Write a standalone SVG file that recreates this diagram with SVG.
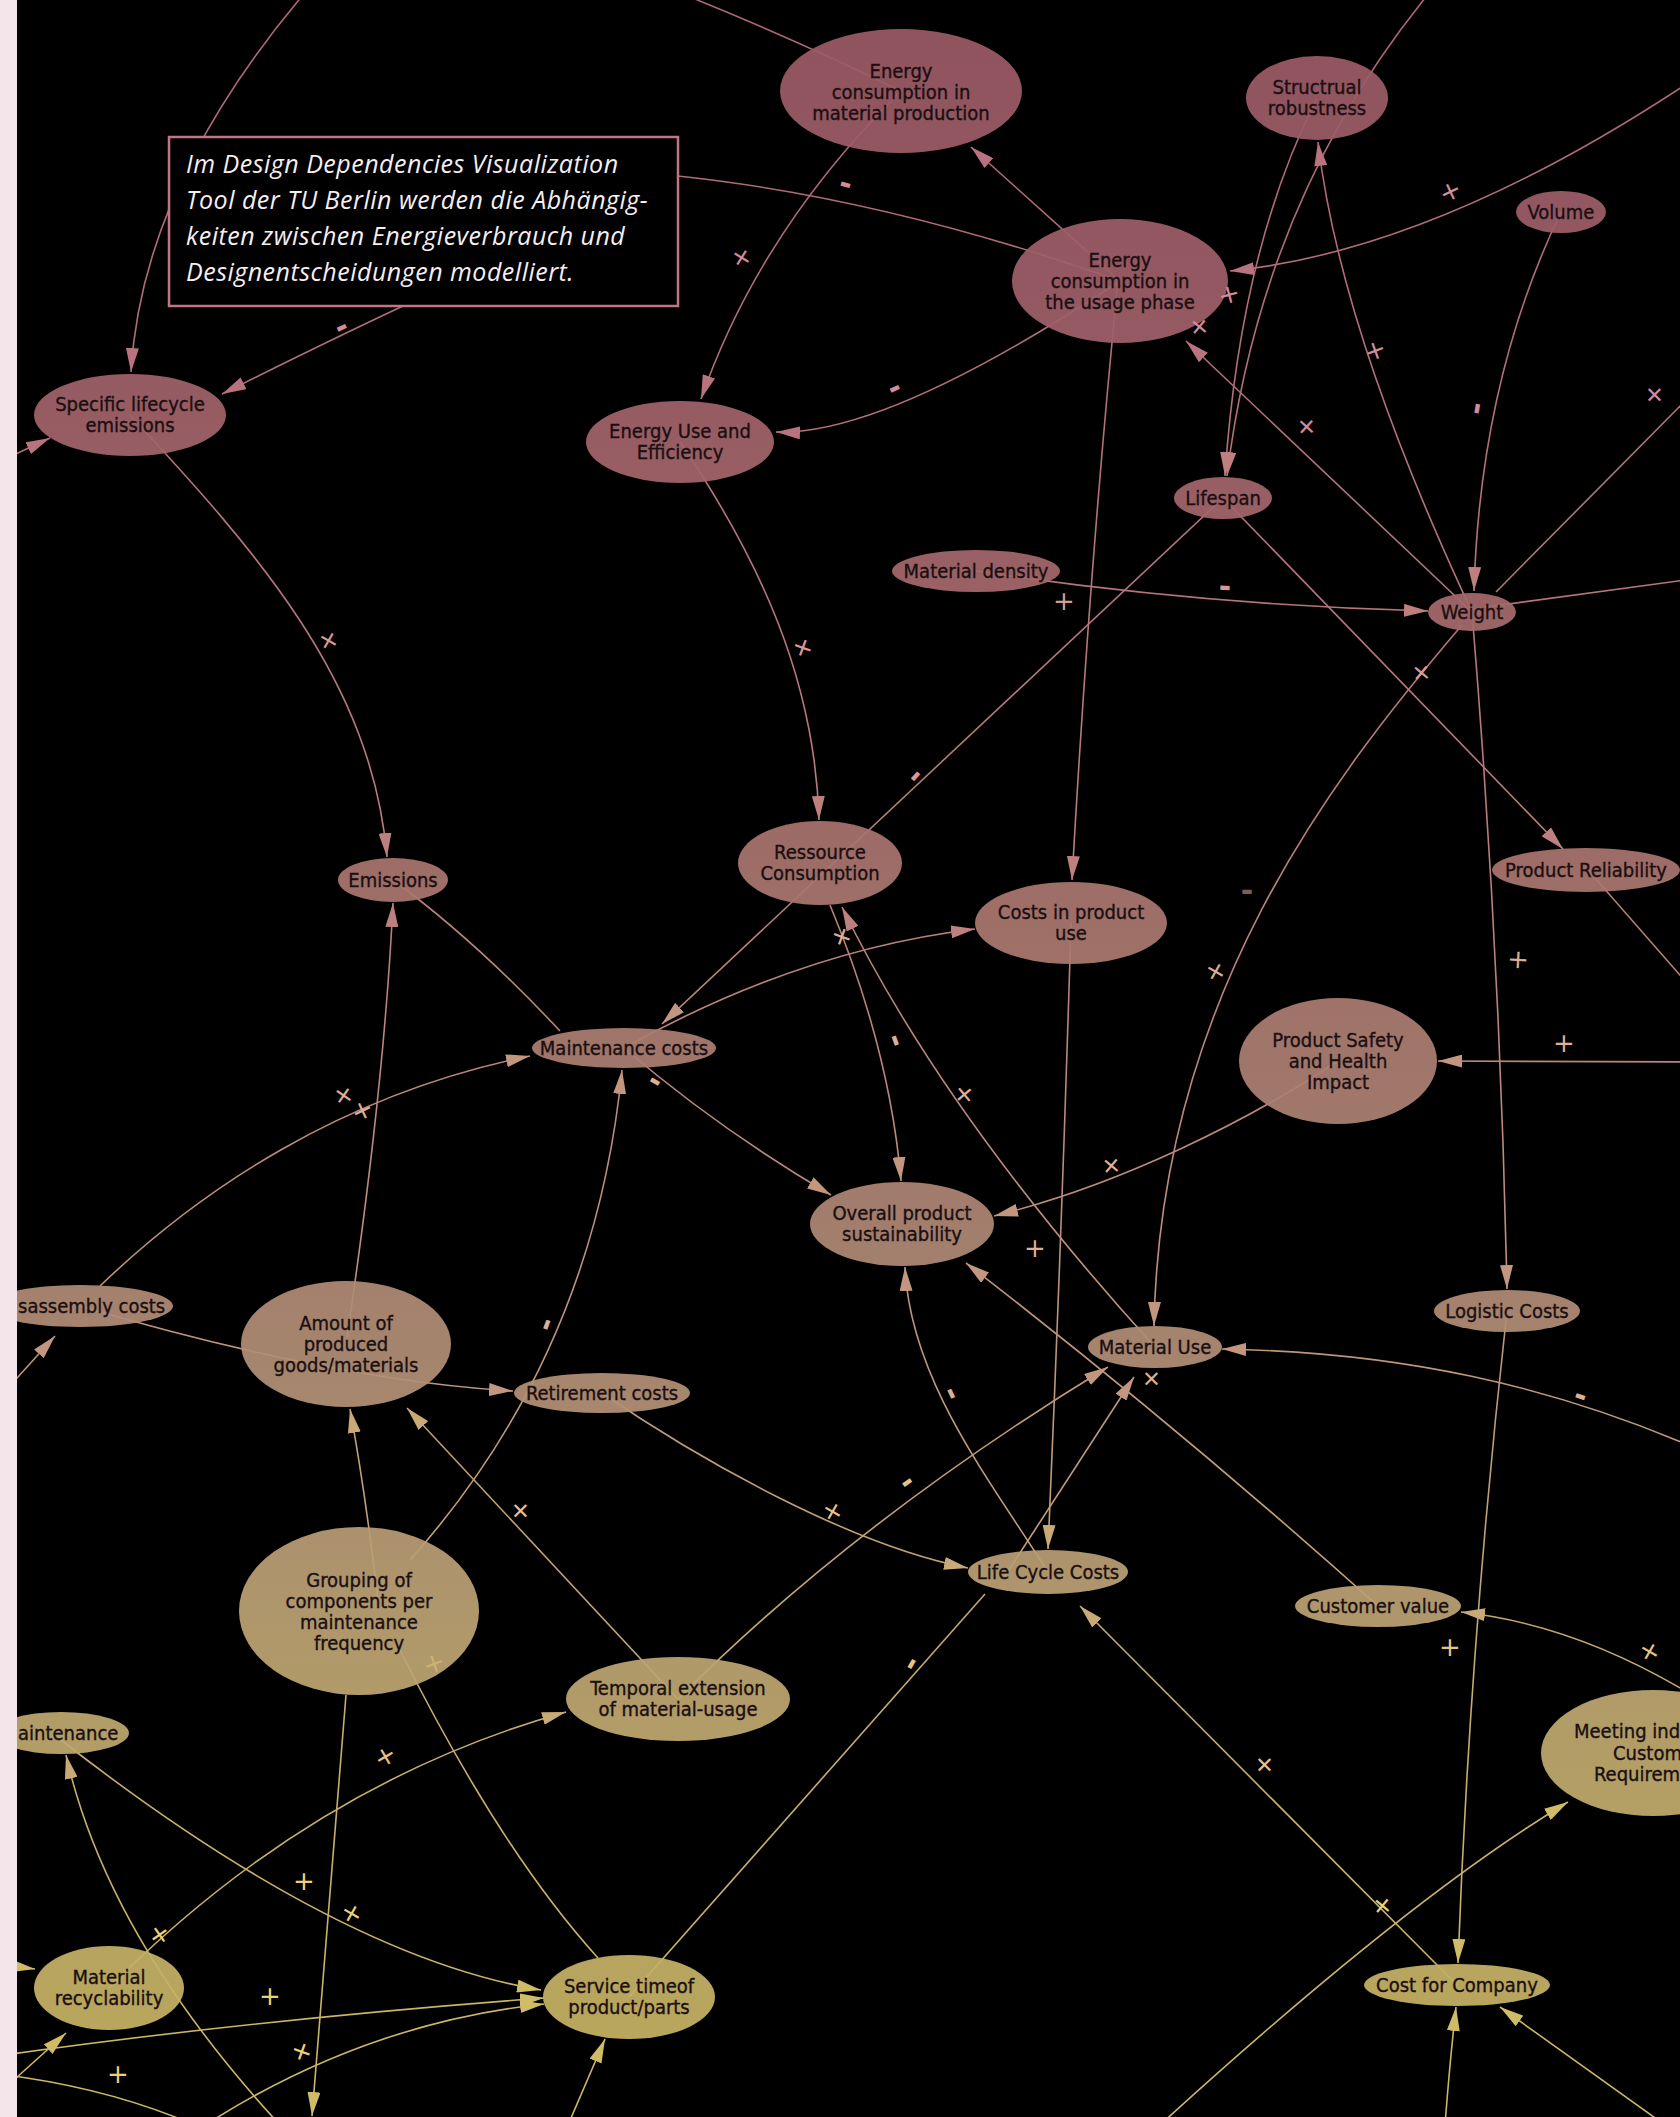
<svg xmlns="http://www.w3.org/2000/svg" width="1680" height="2117" viewBox="0 0 1680 2117">
  <defs>
    <!-- colour drifts from rose at the top to ochre at the bottom -->
    <linearGradient id="nodeFill" gradientUnits="userSpaceOnUse" x1="0" y1="0" x2="0" y2="2117">
      <stop offset="0" stop-color="#9b5a66"/>
      <stop offset="0.14" stop-color="#9f5f69"/>
      <stop offset="0.28" stop-color="#a5696c"/>
      <stop offset="0.43" stop-color="#aa776f"/>
      <stop offset="0.57" stop-color="#ae8675"/>
      <stop offset="0.66" stop-color="#b39176"/>
      <stop offset="0.76" stop-color="#bca274"/>
      <stop offset="0.85" stop-color="#c1ab6c"/>
      <stop offset="1" stop-color="#c9b660"/>
    </linearGradient>
    <linearGradient id="edgeStroke" gradientUnits="userSpaceOnUse" x1="0" y1="0" x2="0" y2="2117">
      <stop offset="0" stop-color="#ad6674"/>
      <stop offset="0.28" stop-color="#b5747b"/>
      <stop offset="0.5" stop-color="#bb857c"/>
      <stop offset="0.66" stop-color="#bf9879"/>
      <stop offset="0.8" stop-color="#c5aa70"/>
      <stop offset="1" stop-color="#ccb862"/>
    </linearGradient>
    <marker id="a1" viewBox="0 0 24 13" refX="24" refY="6.5" markerWidth="24" markerHeight="13" markerUnits="userSpaceOnUse" orient="auto">
      <path d="M0,0 L24,6.5 L0,13 Z" fill="#b9727f"/>
    </marker>
    <marker id="a2" viewBox="0 0 24 13" refX="24" refY="6.5" markerWidth="24" markerHeight="13" markerUnits="userSpaceOnUse" orient="auto">
      <path d="M0,0 L24,6.5 L0,13 Z" fill="#bd807f"/>
    </marker>
    <marker id="a3" viewBox="0 0 24 13" refX="24" refY="6.5" markerWidth="24" markerHeight="13" markerUnits="userSpaceOnUse" orient="auto">
      <path d="M0,0 L24,6.5 L0,13 Z" fill="#c3977f"/>
    </marker>
    <marker id="a4" viewBox="0 0 24 13" refX="24" refY="6.5" markerWidth="24" markerHeight="13" markerUnits="userSpaceOnUse" orient="auto">
      <path d="M0,0 L24,6.5 L0,13 Z" fill="#c9aa76"/>
    </marker>
    <marker id="a5" viewBox="0 0 24 13" refX="24" refY="6.5" markerWidth="24" markerHeight="13" markerUnits="userSpaceOnUse" orient="auto">
      <path d="M0,0 L24,6.5 L0,13 Z" fill="#d0bb66"/>
    </marker>
    <style>
      .edge { fill: none; stroke: url(#edgeStroke); stroke-width: 1.6; }
      .b1 { marker-end: url(#a1); }
      .b2 { marker-end: url(#a2); }
      .b3 { marker-end: url(#a3); }
      .b4 { marker-end: url(#a4); }
      .b5 { marker-end: url(#a5); }
      .node ellipse { fill: url(#nodeFill); fill-opacity: 0.93; }
      .node text { font-family: 'DejaVu Sans Condensed', 'DejaVu Sans', sans-serif; font-stretch: condensed; font-size: 20px; fill: #1a0f11; stroke: #1a0f11; stroke-width: 0.35px; text-anchor: middle; }
      .node text.cut { text-anchor: start; }
      .sign { font-family: 'DejaVu Sans', sans-serif; font-size: 26px; text-anchor: middle; dominant-baseline: central; }
      .minus { font-size: 30px; font-weight: bold; }
      .s1 { fill: #d68b9b; }
      .s2 { fill: #da9a93; }
      .s3 { fill: #dfae93; }
      .s4 { fill: #e5c386; }
      .s5 { fill: #ebd374; }
      .note { font-family: 'Open Sans', 'DejaVu Sans', sans-serif; font-style: italic; font-size: 25px; letter-spacing: 0.5px; fill: #f6eef1; }
    </style>
  </defs>

  <rect x="0" y="0" width="1680" height="2117" fill="#000000"/>

  <g id="connectors">
    <path class="edge b1" d="M 303,-5 Q 142,186 131,372"/>
    <path class="edge" d="M 901,91 Q 760,22 620,-30"/>
    <path class="edge b1" d="M 901,91 Q 760,230 701,399"/>
    <path class="edge b1" d="M 1120,281 L 971,147"/>
    <path class="edge b1" d="M 1120,281 Q 880,196 668,175 L 420,298 Q 330,340 222,394"/>
    <path class="edge b1" d="M 1120,281 Q 886,436 776,432"/>
    <path class="edge b2" d="M 1118,281 Q 1090,560 1072,880"/>
    <path class="edge b4" d="M 1071,923 Q 1062,1230 1048,1549"/>
    <path class="edge b2" d="M 1440,-20 Q 1262,190 1227,476"/>
    <path class="edge b2" d="M 1317,98 Q 1240,250 1225,476"/>
    <path class="edge b1" d="M 1472,612 Q 1340,330 1318,142"/>
    <path class="edge b1" d="M 1700,75 Q 1440,250 1230,271"/>
    <path class="edge b1" d="M 1472,612 L 1186,341"/>
    <path class="edge b2" d="M 1561,212 Q 1480,380 1474,591"/>
    <path class="edge" d="M 1700,386 L 1496,592"/>
    <path class="edge" d="M 1472,609 L 1700,578"/>
    <path class="edge b2" d="M 976,571 Q 1200,605 1428,611"/>
    <path class="edge b3" d="M 1223,498 L 662,1024"/>
    <path class="edge b2" d="M 1223,498 L 1563,849"/>
    <path class="edge" d="M 1588,870 L 1700,998"/>
    <path class="edge b3" d="M 1462,625 C 1330,780 1160,1000 1154,1326"/>
    <path class="edge b3" d="M 1472,612 Q 1500,950 1507,1289"/>
    <path class="edge b5" d="M 1507,1311 Q 1470,1640 1458,1963"/>
    <path class="edge b3" d="M 1700,1062 L 1438,1061"/>
    <path class="edge b3" d="M 1338,1061 C 1250,1120 1120,1185 994,1216"/>
    <path class="edge b2" d="M 680,442 C 760,560 815,680 819,820"/>
    <path class="edge b2" d="M 130,415 C 255,550 372,680 387,857"/>
    <path class="edge b2" d="M 346,1344 Q 384,1090 393,903"/>
    <path class="edge" d="M 393,880 Q 475,940 560,1031"/>
    <path class="edge b3" d="M 100,1286 C 200,1190 342,1094 530,1056"/>
    <path class="edge b3" d="M -10,1408 L 55,1336"/>
    <path class="edge b3" d="M 80,1306 Q 330,1380 513,1391"/>
    <path class="edge b4" d="M 378,1600 Q 365,1490 350,1409"/>
    <path class="edge b4" d="M 678,1699 L 407,1408"/>
    <path class="edge b3" d="M 410,1560 Q 594,1354 622,1070"/>
    <path class="edge b3" d="M 624,1048 Q 720,1130 831,1195"/>
    <path class="edge b2" d="M 624,1048 Q 800,950 975,929"/>
    <path class="edge b3" d="M 830,905 Q 890,1050 901,1181"/>
    <path class="edge b2" d="M 1155,1347 Q 943,1114 842,907"/>
    <path class="edge b3" d="M 1048,1572 C 990,1480 910,1380 905,1267"/>
    <path class="edge b4" d="M 602,1393 C 700,1460 850,1545 968,1568"/>
    <path class="edge b3" d="M 678,1699 Q 858,1519 1108,1367"/>
    <path class="edge b3" d="M 1005,1576 L 1134,1377"/>
    <path class="edge b3" d="M 1378,1606 Q 1170,1420 966,1263"/>
    <path class="edge b3" d="M 1700,1450 C 1550,1385 1400,1352 1222,1349"/>
    <path class="edge b4" d="M 1700,1700 Q 1580,1625 1461,1612"/>
    <path class="edge b4" d="M 1457,1985 L 1080,1606"/>
    <path class="edge b5" d="M 1160,2125 Q 1411,1896 1568,1802"/>
    <path class="edge b5" d="M 1445,2125 Q 1450,2060 1456,2007"/>
    <path class="edge b5" d="M 1665,2125 L 1500,2007"/>
    <path class="edge" d="M 629,1997 L 985,1594"/>
    <path class="edge" d="M 400,1650 Q 500,1850 598,1958"/>
    <path class="edge b5" d="M 346,1695 Q 330,1900 312,2116"/>
    <path class="edge b5" d="M 61,1740 Q 337,1956 541,1990"/>
    <path class="edge b5" d="M -10,2057 Q 250,2020 544,1998"/>
    <path class="edge b5" d="M 190,2135 Q 356,2024 544,2004"/>
    <path class="edge" d="M -20,2072 Q 110,2085 210,2132"/>
    <path class="edge b4" d="M 280,2125 Q 107,1937 66,1755"/>
    <path class="edge b4" d="M 109,1988 Q 312,1783 566,1712"/>
    <path class="edge b5" d="M -10,1963 L 35,1969"/>
    <path class="edge b5" d="M -5,2097 L 66,2033"/>
    <path class="edge b5" d="M 568,2125 L 605,2039"/>
    <path class="edge b1" d="M -10,466 L 50,438"/>
  </g>

  <g id="nodes">
    <g id="node-energy-material-production" class="node">
      <ellipse cx="901" cy="91" rx="121" ry="62"/>
      <text><tspan x="901" y="78">Energy</tspan><tspan x="901" y="99">consumption in</tspan><tspan x="901" y="120">material production</tspan></text>
    </g>
    <g id="node-structural-robustness" class="node">
      <ellipse cx="1317" cy="98" rx="71" ry="42"/>
      <text><tspan x="1317" y="94">Structrual</tspan><tspan x="1317" y="115">robustness</tspan></text>
    </g>
    <g id="node-volume" class="node">
      <ellipse cx="1561" cy="212" rx="45" ry="21"/>
      <text x="1561" y="219">Volume</text>
    </g>
    <g id="node-energy-usage-phase" class="node">
      <ellipse cx="1120" cy="281" rx="108" ry="62"/>
      <text><tspan x="1120" y="267">Energy</tspan><tspan x="1120" y="288">consumption in</tspan><tspan x="1120" y="309">the usage phase</tspan></text>
    </g>
    <g id="node-specific-lifecycle-emissions" class="node">
      <ellipse cx="130" cy="415" rx="96" ry="41"/>
      <text><tspan x="130" y="411">Specific lifecycle</tspan><tspan x="130" y="432">emissions</tspan></text>
    </g>
    <g id="node-energy-use-efficiency" class="node">
      <ellipse cx="680" cy="442" rx="94" ry="41"/>
      <text><tspan x="680" y="438">Energy Use and</tspan><tspan x="680" y="459">Efficiency</tspan></text>
    </g>
    <g id="node-lifespan" class="node">
      <ellipse cx="1223" cy="498" rx="49" ry="21"/>
      <text x="1223" y="505">Lifespan</text>
    </g>
    <g id="node-material-density" class="node">
      <ellipse cx="976" cy="571" rx="84" ry="21"/>
      <text x="976" y="578">Material density</text>
    </g>
    <g id="node-weight" class="node">
      <ellipse cx="1472" cy="612" rx="44" ry="19"/>
      <text x="1472" y="619">Weight</text>
    </g>
    <g id="node-ressource-consumption" class="node">
      <ellipse cx="820" cy="863" rx="82" ry="42"/>
      <text><tspan x="820" y="859">Ressource</tspan><tspan x="820" y="880">Consumption</tspan></text>
    </g>
    <g id="node-costs-product-use" class="node">
      <ellipse cx="1071" cy="923" rx="96" ry="41"/>
      <text><tspan x="1071" y="919">Costs in product</tspan><tspan x="1071" y="940">use</tspan></text>
    </g>
    <g id="node-product-reliability" class="node">
      <ellipse cx="1586" cy="870" rx="94" ry="22"/>
      <text x="1586" y="877">Product Reliability</text>
    </g>
    <g id="node-emissions" class="node">
      <ellipse cx="393" cy="880" rx="55" ry="22"/>
      <text x="393" y="887">Emissions</text>
    </g>
    <g id="node-product-safety" class="node">
      <ellipse cx="1338" cy="1061" rx="99" ry="63"/>
      <text><tspan x="1338" y="1047">Product Safety</tspan><tspan x="1338" y="1068">and Health</tspan><tspan x="1338" y="1089">Impact</tspan></text>
    </g>
    <g id="node-maintenance-costs" class="node">
      <ellipse cx="624" cy="1048" rx="92" ry="20"/>
      <text x="624" y="1055">Maintenance costs</text>
    </g>
    <g id="node-overall-sustainability" class="node">
      <ellipse cx="902" cy="1224" rx="92" ry="42"/>
      <text><tspan x="902" y="1220">Overall product</tspan><tspan x="902" y="1241">sustainability</tspan></text>
    </g>
    <g id="node-disassembly-costs" class="node">
      <ellipse cx="80" cy="1306" rx="93" ry="21"/>
      <text class="cut" x="18" y="1313">sassembly costs</text>
    </g>
    <g id="node-amount-produced" class="node">
      <ellipse cx="346" cy="1344" rx="105" ry="63"/>
      <text><tspan x="346" y="1330">Amount of</tspan><tspan x="346" y="1351">produced</tspan><tspan x="346" y="1372">goods/materials</tspan></text>
    </g>
    <g id="node-retirement-costs" class="node">
      <ellipse cx="602" cy="1393" rx="88" ry="20"/>
      <text x="602" y="1400">Retirement costs</text>
    </g>
    <g id="node-material-use" class="node">
      <ellipse cx="1155" cy="1347" rx="67" ry="21"/>
      <text x="1155" y="1354">Material Use</text>
    </g>
    <g id="node-logistic-costs" class="node">
      <ellipse cx="1507" cy="1311" rx="73" ry="21"/>
      <text x="1507" y="1318">Logistic Costs</text>
    </g>
    <g id="node-grouping-components" class="node">
      <ellipse cx="359" cy="1611" rx="120" ry="84"/>
      <text><tspan x="359" y="1587">Grouping of</tspan><tspan x="359" y="1608">components  per</tspan><tspan x="359" y="1629">maintenance</tspan><tspan x="359" y="1650">frequency</tspan></text>
    </g>
    <g id="node-temporal-extension" class="node">
      <ellipse cx="678" cy="1699" rx="112" ry="42"/>
      <text><tspan x="678" y="1695">Temporal extension</tspan><tspan x="678" y="1716">of material-usage</tspan></text>
    </g>
    <g id="node-life-cycle-costs" class="node">
      <ellipse cx="1048" cy="1572" rx="80" ry="22"/>
      <text x="1048" y="1579">Life Cycle Costs</text>
    </g>
    <g id="node-customer-value" class="node">
      <ellipse cx="1378" cy="1606" rx="83" ry="21"/>
      <text x="1378" y="1613">Customer value</text>
    </g>
    <g id="node-maintenance" class="node">
      <ellipse cx="61" cy="1733" rx="68" ry="21"/>
      <text class="cut" x="18" y="1740">aintenance</text>
    </g>
    <g id="node-customer-requirements" class="node">
      <ellipse cx="1653" cy="1753" rx="112" ry="63"/>
      <text class="cut"><tspan x="1574" y="1738">Meeting ind</tspan><tspan x="1613" y="1760">Custom</tspan><tspan x="1594" y="1781">Requirem</tspan></text>
    </g>
    <g id="node-material-recyclability" class="node">
      <ellipse cx="109" cy="1988" rx="75" ry="42"/>
      <text><tspan x="109" y="1984">Material</tspan><tspan x="109" y="2005">recyclability</tspan></text>
    </g>
    <g id="node-service-time" class="node">
      <ellipse cx="629" cy="1997" rx="86" ry="42"/>
      <text><tspan x="629" y="1993">Service timeof</tspan><tspan x="629" y="2014">product/parts</tspan></text>
    </g>
    <g id="node-cost-for-company" class="node">
      <ellipse cx="1457" cy="1985" rx="93" ry="21"/>
      <text x="1457" y="1992">Cost for Company</text>
    </g>
  </g>

  <g id="caption">
    <rect x="169" y="137" width="509" height="169" fill="#000000" stroke="#c27685" stroke-width="2.5"/>
    <text class="note" x="186" y="173">Im Design Dependencies Visualization</text>
    <text class="note" x="186" y="209">Tool der TU Berlin werden die Abhängig-</text>
    <text class="note" x="186" y="245">keiten zwischen Energieverbrauch und</text>
    <text class="note" x="186" y="281">Designentscheidungen modelliert.</text>
  </g>

  <g id="edge-signs">
    <text class="sign minus s1" x="341" y="326" transform="rotate(-25 341 326)">-</text>
    <text class="sign minus s1" x="846" y="183" transform="rotate(15 846 183)">-</text>
    <text class="sign s1" x="742" y="257" transform="rotate(32 742 257)">+</text>
    <text class="sign minus s1" x="894" y="387" transform="rotate(-25 894 387)">-</text>
    <text class="sign s1" x="1450" y="191" transform="rotate(-25 1450 191)">+</text>
    <text class="sign s1" x="1229" y="294" transform="rotate(-15 1229 294)">+</text>
    <text class="sign s1" x="1200" y="326" transform="rotate(40 1200 326)">+</text>
    <text class="sign s1" x="1375" y="350" transform="rotate(-20 1375 350)">+</text>
    <text class="sign s1" x="1307" y="426" transform="rotate(43 1307 426)">+</text>
    <text class="sign minus s1" x="1479" y="409" transform="rotate(100 1479 409)">-</text>
    <text class="sign s1" x="1655" y="394" transform="rotate(45 1655 394)">+</text>
    <text class="sign s2" x="329" y="640" transform="rotate(30 329 640)">+</text>
    <text class="sign s2" x="803" y="647" transform="rotate(20 803 647)">+</text>
    <text class="sign s2" x="1064" y="601">+</text>
    <text class="sign minus s2" x="1225" y="586" transform="rotate(3 1225 586)">-</text>
    <text class="sign minus s2" x="914" y="775" transform="rotate(-48 914 775)">-</text>
    <text class="sign s2" x="1422" y="672" transform="rotate(40 1422 672)">+</text>
    <text class="sign minus s2" x="1247" y="890" opacity="0.6">-</text>
    <text class="sign s3" x="1216" y="971" transform="rotate(30 1216 971)">+</text>
    <text class="sign s3" x="1518" y="959" transform="rotate(3 1518 959)">+</text>
    <text class="sign s3" x="1564" y="1043">+</text>
    <text class="sign s3" x="842" y="936" transform="rotate(20 842 936)">+</text>
    <text class="sign minus s3" x="897" y="1040" transform="rotate(70 897 1040)">-</text>
    <text class="sign s3" x="344" y="1095" transform="rotate(35 344 1095)">+</text>
    <text class="sign s3" x="362" y="1110" transform="rotate(-25 362 1110)">+</text>
    <text class="sign minus s3" x="656" y="1080" transform="rotate(30 656 1080)">-</text>
    <text class="sign s3" x="965" y="1094" transform="rotate(50 965 1094)">+</text>
    <text class="sign s3" x="1112" y="1165" transform="rotate(40 1112 1165)">+</text>
    <text class="sign s3" x="1035" y="1248">+</text>
    <text class="sign minus s3" x="545" y="1324" transform="rotate(-70 545 1324)">-</text>
    <text class="sign s4" x="521" y="1510" transform="rotate(45 521 1510)">+</text>
    <text class="sign minus s3" x="953" y="1393" transform="rotate(65 953 1393)">-</text>
    <text class="sign s4" x="833" y="1511" transform="rotate(30 833 1511)">+</text>
    <text class="sign minus s4" x="906" y="1481" transform="rotate(-35 906 1481)">-</text>
    <text class="sign s3" x="1152" y="1378" transform="rotate(45 1152 1378)">+</text>
    <text class="sign minus s3" x="1581" y="1395" transform="rotate(18 1581 1395)">-</text>
    <text class="sign s4" x="1450" y="1647">+</text>
    <text class="sign s4" x="1650" y="1651" transform="rotate(30 1650 1651)">+</text>
    <text class="sign s4" x="1265" y="1764" transform="rotate(45 1265 1764)">+</text>
    <text class="sign s5" x="1383" y="1905" transform="rotate(40 1383 1905)">+</text>
    <text class="sign minus s4" x="910" y="1663" transform="rotate(-60 910 1663)">-</text>
    <text class="sign s4" x="385" y="1756" transform="rotate(-30 385 1756)">+</text>
    <text class="sign s4" x="434" y="1663" opacity="0.55" transform="rotate(-20 434 1663)">+</text>
    <text class="sign s5" x="304" y="1881">+</text>
    <text class="sign s5" x="352" y="1913" transform="rotate(30 352 1913)">+</text>
    <text class="sign s5" x="159" y="1934" transform="rotate(-35 159 1934)">+</text>
    <text class="sign s5" x="270" y="1996">+</text>
    <text class="sign s5" x="302" y="2051" transform="rotate(20 302 2051)">+</text>
    <text class="sign s5" x="118" y="2074">+</text>
  </g>

  <!-- pale page margin on the left -->
  <rect x="0" y="0" width="17" height="2117" fill="#f3e5e9"/>
</svg>
